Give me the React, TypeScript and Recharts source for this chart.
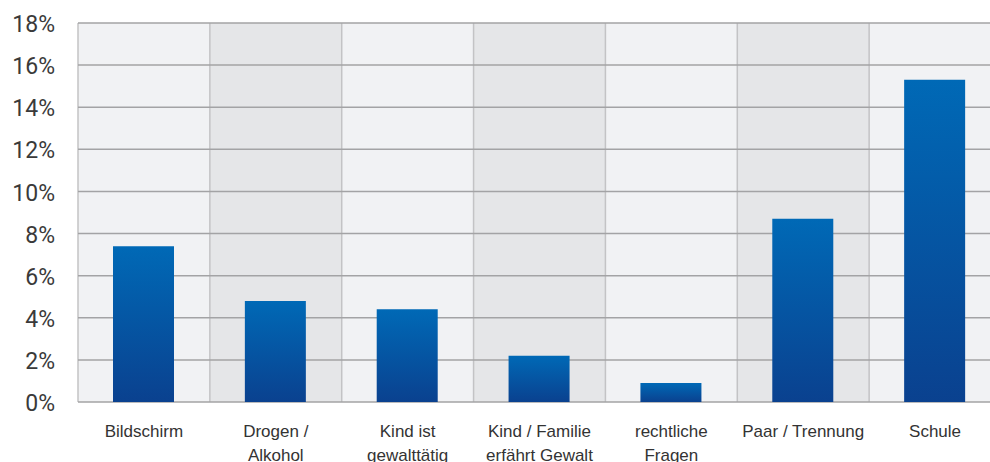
import { BarChart, Bar, XAxis, YAxis, CartesianGrid } from 'recharts';

const categories = [
  'Bildschirm',
  'Drogen /\nAlkohol',
  'Kind ist\ngewalttätig',
  'Kind / Familie\nerfährt Gewalt',
  'rechtliche\nFragen',
  'Paar / Trennung',
  'Schule',
];
const shares = [7.4, 4.8, 4.4, 2.2, 0.9, 8.7, 15.3];
const yTicks = [0, 2, 4, 6, 8, 10, 12, 14, 16, 18];

const data = categories.map((name, i) => ({ name, value: shares[i] }));

// column boundaries for the alternating background, taken from the x scale
const bandEdges = ({ xAxis, offset }: any) => {
  const s = xAxis?.scale;
  let lo = offset.left;
  let hi = offset.left + offset.width;
  if (s && typeof s.range === 'function') {
    const r = s.range();
    lo = Math.min(r[0], r[1]);
    hi = Math.max(r[0], r[1]);
  }
  const step = (hi - lo) / categories.length;
  return [...categories.map((_, i) => lo + i * step), hi];
};

function CategoryTick({ x, y, payload }: any) {
  const lines = String(payload.value).split('\n');
  return (
    <text x={x} y={y} textAnchor="middle" fill="#333" fontSize={17} fontFamily="'Liberation Sans', Arial, sans-serif">
      {lines.map((l, i) => (
        <tspan key={i} x={x} dy={i === 0 ? 27 : 24}>{l}</tspan>
      ))}
    </text>
  );
}

export default function App() {
  return (
    <div style={{ position: 'absolute', left: 0, top: 0, width: 990, height: 462, overflow: 'hidden', background: '#fff' }}>
      <BarChart width={1010} height={462} data={data} margin={{ top: 23, right: 9, left: 0, bottom: 0 }}>
        <defs>
          <linearGradient id="barBlue" x1="0" y1="0" x2="0" y2="1">
            <stop offset="0%" stopColor="#0069b6" />
            <stop offset="100%" stopColor="#0a418f" />
          </linearGradient>
        </defs>
        <CartesianGrid
          horizontal={false}
          vertical
          verticalCoordinatesGenerator={bandEdges}
          verticalFill={['#f1f2f4', '#e5e6e8']}
          stroke="#c3c3c5"
          strokeWidth={1.5}
        />
        <CartesianGrid horizontal vertical={false} stroke="#a3a3a5" strokeWidth={1.5} fill="none" />
        <XAxis
          dataKey="name"
          axisLine={false}
          tickLine={false}
          height={60}
          interval={0}
          tick={<CategoryTick />}
        />
        <YAxis
          width={78}
          domain={[0, 18]}
          ticks={yTicks}
          tickFormatter={(v: number) => `${v}%`}
          axisLine={false}
          tickLine={false}
          tickSize={0}
          tickMargin={23}
          tick={{ fill: '#3a3a3a', fontSize: 23, fontFamily: 'Roboto, sans-serif', dy: 1 }}
        />
        <Bar dataKey="value" fill="url(#barBlue)" barSize={61} isAnimationActive={false} />
      </BarChart>
    </div>
  );
}
